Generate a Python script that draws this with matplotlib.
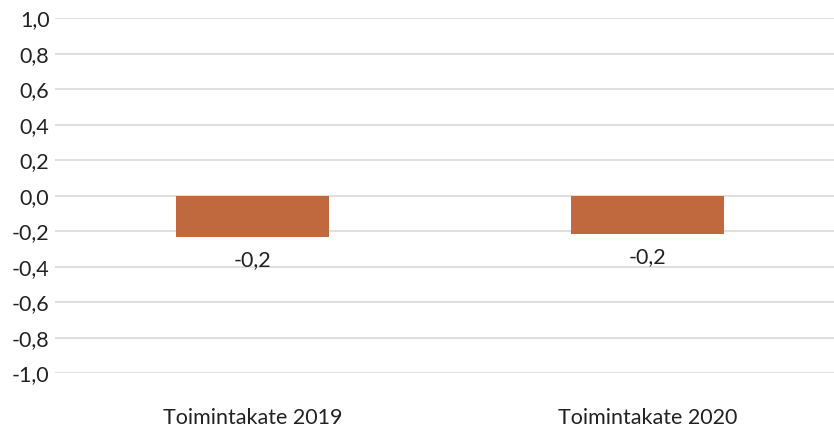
import matplotlib
matplotlib.use("Agg")
import matplotlib.pyplot as plt
import numpy as np

# Data
categories = ["Toimintakate 2019", "Toimintakate 2020"]
values = [-0.232, -0.215]
value_labels = ["-0,2", "-0,2"]
y_ticks = [-1.0, -0.8, -0.6, -0.4, -0.2, 0.0, 0.2, 0.4, 0.6, 0.8, 1.0]

plt.rcParams['font.family'] = ['Lato', 'DejaVu Sans']
FS = 15.5

fig = plt.figure(figsize=(8.34, 4.28), dpi=100)
# plot area runs slightly past the right edge of the image, as in the reference
ax = fig.add_axes([55 / 834, 1 - 373.3 / 428, 790 / 834, (373.3 - 18.3) / 428])

x = np.arange(len(categories))
ax.bar(x, values, width=0.385, color='#C0693F', zorder=3)

for xi, v, lab in zip(x, values, value_labels):
    ax.annotate(lab, xy=(xi, v), xytext=(0, -16.5), textcoords='offset points',
                ha='center', va='center', fontsize=FS, color='#222222')

ax.set_xlim(-0.5, len(categories) - 0.5)
ax.set_ylim(-1.0, 1.0)
ax.set_yticks(y_ticks)
ax.set_yticklabels([f"{t:.1f}".replace('.', ',') for t in y_ticks])
ax.set_xticks(x)
ax.set_xticklabels(categories)

ax.grid(axis='y', color='#D9D9D9', linewidth=1.2, zorder=0)
ax.tick_params(axis='y', length=0, pad=4, labelsize=FS, labelcolor='#222222')
ax.tick_params(axis='x', length=0, pad=25, labelsize=FS, labelcolor='#222222')
for spine in ax.spines.values():
    spine.set_visible(False)

fig.savefig("out.png", dpi=100)
